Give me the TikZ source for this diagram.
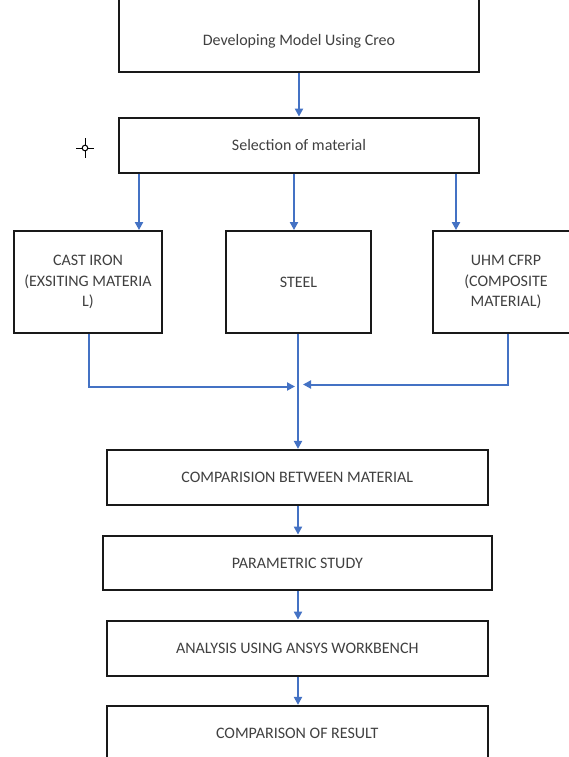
\documentclass[tikz,border=0pt]{standalone}
\usepackage{fontspec}
\setmainfont{Carlito}
\usepackage{xcolor}
\usepackage{tikz}
\usetikzlibrary{arrows.meta}
\definecolor{flowblue}{HTML}{4472C4}

\begin{document}
\begin{tikzpicture}[x=0.5pt,y=-0.5pt,
  procbox/.style={draw=black!90,line width=1.1pt,inner sep=0pt,align=center,
    text=black!75,font=\fontsize{8}{10.2}\selectfont},
  flow/.style={draw=flowblue,line width=1pt,-{Triangle[length=4pt,width=4pt]}}]
\useasboundingbox (0,0) rectangle (569,757);
% process boxes
\node (dev) [procbox,minimum width=179.75pt,text height=26.5pt,text depth=13.5pt] at (299,32) {Developing Model Using Creo};
\node (sel) [procbox,minimum width=179.75pt,minimum height=27.5pt] at (299,145.2) {Selection of material};
\node (cast) [procbox,minimum width=74pt,minimum height=50.8pt] at (88,282) {CAST IRON\\(EXSITING MATERIA\\L)};
\node (steel) [procbox,minimum width=72.5pt,minimum height=50.8pt] at (298.5,282) {STEEL};
\node (uhm) [procbox,minimum width=73pt,minimum height=50.8pt] at (506,282) {UHM CFRP\\(COMPOSITE\\MATERIAL)};
\node (cmpmat) [procbox,minimum width=190.65pt,minimum height=27.5pt] at (297.3,477.5) {COMPARISION BETWEEN MATERIAL};
\node (param) [procbox,minimum width=194.65pt,minimum height=27.3pt] at (297.3,563) {PARAMETRIC STUDY};
\node (ansys) [procbox,minimum width=190.65pt,minimum height=27.5pt] at (297.3,648.2) {ANALYSIS USING ANSYS WORKBENCH};
\node (result) [procbox,minimum width=190.65pt,minimum height=27.5pt] at (297.3,733.5) {COMPARISON OF RESULT};
% small cross mark
\coordinate (cross) at (85,148);
\draw [line width=0.5pt] ([xshift=-4.5pt]cross) -- ([xshift=4.5pt]cross);
\draw [line width=0.5pt] ([yshift=5pt]cross) -- ([yshift=-5pt]cross);
\draw [line width=0.5pt,fill=white] (cross) circle (1.4pt);
% connectors
\coordinate (jl) at (295,386.5);
\coordinate (jr) at (303,384.5);
\draw [flow] (dev) -- (sel);
\draw [flow] (sel.south -| 139,0) -- (cast.north -| 139,0);
\draw [flow] (sel.south -| 294,0) -- (steel.north -| 294,0);
\draw [flow] (sel.south -| 456,0) -- (uhm.north -| 456,0);
\draw [flow] (cast.south -| 89,0) |- (jl);
\draw [flow] (uhm.south -| 508,0) |- (jr);
\draw [flow] (steel.south -| 298,0) -- (cmpmat.north -| 298,0);
\foreach \a/\b in {cmpmat/param,param/ansys,ansys/result}
  \draw [flow] (\a.south -| 298,0) -- (\b.north -| 298,0);
\end{tikzpicture}
\end{document}
